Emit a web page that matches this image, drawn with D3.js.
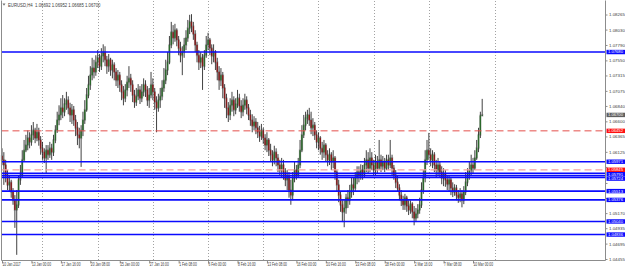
<!DOCTYPE html>
<html>
<head>
<meta charset="utf-8">
<script src="https://cdn.jsdelivr.net/npm/d3@7"></script>
<style>
html, body { margin: 0; padding: 0; background: #fff; }
svg { display: block; font-family: "Liberation Sans", Arial, sans-serif; }
</style>
</head>
<body>
<svg id="chart" width="625" height="270"></svg>
<script>
// EURUSD H4 bars, 10 Jan 2017 08:00 .. 10 Mar 2017 20:00 (bar index = position)
const firstOpen = 1.0606;
const closes = [
  1.0600,1.0592,1.0576,1.0561,1.0565,1.0550,1.0537,1.0522,1.0530,1.0569,
  1.0576,1.0600,1.0615,1.0623,1.0634,1.0628,1.0639,1.0646,1.0634,1.0643,
  1.0631,1.0618,1.0612,1.0603,1.0615,1.0608,1.0618,1.0612,1.0631,1.0646,
  1.0662,1.0670,1.0681,1.0675,1.0687,1.0693,1.0681,1.0670,1.0678,1.0662,
  1.0650,1.0639,1.0634,1.0646,1.0662,1.0678,1.0701,1.0717,1.0732,1.0743,
  1.0737,1.0752,1.0759,1.0746,1.0762,1.0768,1.0756,1.0746,1.0756,1.0740,
  1.0748,1.0737,1.0724,1.0732,1.0717,1.0706,1.0696,1.0709,1.0721,1.0727,
  1.0717,1.0701,1.0690,1.0699,1.0709,1.0696,1.0706,1.0717,1.0709,1.0693,
  1.0701,1.0717,1.0706,1.0690,1.0681,1.0693,1.0699,1.0712,1.0724,1.0740,
  1.0752,1.0779,1.0799,1.0790,1.0802,1.0787,1.0774,1.0763,1.0768,1.0779,
  1.0790,1.0805,1.0815,1.0808,1.0796,1.0779,1.0763,1.0752,1.0759,1.0746,
  1.0763,1.0779,1.0787,1.0774,1.0762,1.0768,1.0752,1.0737,1.0724,1.0732,
  1.0712,1.0696,1.0681,1.0670,1.0685,1.0693,1.0678,1.0687,1.0696,1.0684,
  1.0675,1.0685,1.0693,1.0681,1.0670,1.0662,1.0653,1.0659,1.0650,1.0643,
  1.0637,1.0646,1.0634,1.0623,1.0631,1.0615,1.0608,1.0600,1.0612,1.0603,
  1.0592,1.0584,1.0592,1.0581,1.0569,1.0575,1.0553,1.0545,1.0572,1.0584,
  1.0576,1.0592,1.0615,1.0639,1.0654,1.0665,1.0670,1.0662,1.0650,1.0654,
  1.0639,1.0628,1.0634,1.0618,1.0612,1.0623,1.0608,1.0600,1.0608,1.0597,
  1.0603,1.0581,1.0561,1.0545,1.0530,1.0519,1.0525,1.0541,1.0537,1.0550,
  1.0561,1.0556,1.0572,1.0581,1.0575,1.0584,1.0578,1.0592,1.0600,1.0587,
  1.0603,1.0592,1.0584,1.0597,1.0587,1.0600,1.0590,1.0597,1.0587,1.0600,
  1.0592,1.0603,1.0587,1.0576,1.0565,1.0556,1.0545,1.0537,1.0530,1.0541,
  1.0528,1.0522,1.0531,1.0519,1.0509,1.0516,1.0522,1.0530,1.0553,1.0572,
  1.0600,1.0615,1.0608,1.0600,1.0608,1.0592,1.0584,1.0592,1.0581,1.0572,
  1.0578,1.0569,1.0562,1.0569,1.0556,1.0550,1.0556,1.0545,1.0541,1.0547,
  1.0537,1.0550,1.0565,1.0576,1.0584,1.0592,1.0587,1.0603,1.0618,1.0639,
  1.0669,1.0670
];
const highs = [
  1.0618,1.0612,1.0600,1.0584,1.0575,1.0569,1.0556,1.0545,1.0553,1.0576,
  1.0592,1.0615,1.0631,1.0639,1.0646,1.0643,1.0654,1.0659,1.0650,1.0656,
  1.0650,1.0637,1.0628,1.0618,1.0623,1.0623,1.0628,1.0625,1.0639,1.0654,
  1.0675,1.0685,1.0696,1.0701,1.0696,1.0706,1.0699,1.0689,1.0687,1.0684,
  1.0670,1.0659,1.0650,1.0654,1.0675,1.0693,1.0712,1.0731,1.0746,1.0759,
  1.0756,1.0763,1.0771,1.0765,1.0774,1.0780,1.0777,1.0762,1.0765,1.0759,
  1.0756,1.0752,1.0743,1.0740,1.0737,1.0724,1.0715,1.0718,1.0731,1.0746,
  1.0734,1.0724,1.0709,1.0712,1.0718,1.0715,1.0718,1.0727,1.0724,1.0715,
  1.0712,1.0737,1.0727,1.0712,1.0699,1.0703,1.0712,1.0724,1.0743,1.0756,
  1.0768,1.0793,1.0815,1.0810,1.0812,1.0805,1.0793,1.0784,1.0777,1.0790,
  1.0802,1.0818,1.0826,1.0827,1.0815,1.0802,1.0784,1.0771,1.0768,1.0765,
  1.0771,1.0793,1.0798,1.0790,1.0780,1.0780,1.0771,1.0759,1.0746,1.0743,
  1.0737,1.0718,1.0703,1.0690,1.0696,1.0706,1.0699,1.0696,1.0709,1.0703,
  1.0693,1.0696,1.0703,1.0699,1.0687,1.0678,1.0671,1.0668,1.0665,1.0659,
  1.0653,1.0656,1.0650,1.0640,1.0643,1.0634,1.0625,1.0615,1.0622,1.0618,
  1.0609,1.0600,1.0603,1.0600,1.0587,1.0584,1.0581,1.0569,1.0581,1.0597,
  1.0592,1.0603,1.0631,1.0654,1.0670,1.0675,1.0678,1.0681,1.0675,1.0665,
  1.0659,1.0646,1.0643,1.0637,1.0628,1.0631,1.0626,1.0615,1.0618,1.0612,
  1.0615,1.0606,1.0584,1.0569,1.0550,1.0537,1.0537,1.0547,1.0553,1.0561,
  1.0572,1.0572,1.0581,1.0590,1.0590,1.0593,1.0592,1.0603,1.0615,1.0612,
  1.0618,1.0612,1.0600,1.0608,1.0606,1.0631,1.0608,1.0606,1.0603,1.0608,
  1.0608,1.0631,1.0608,1.0592,1.0584,1.0575,1.0562,1.0553,1.0544,1.0547,
  1.0544,1.0537,1.0537,1.0534,1.0528,1.0525,1.0531,1.0541,1.0565,1.0584,
  1.0615,1.0631,1.0642,1.0618,1.0615,1.0612,1.0600,1.0603,1.0597,1.0590,
  1.0587,1.0584,1.0576,1.0575,1.0572,1.0565,1.0562,1.0561,1.0553,1.0556,
  1.0553,1.0559,1.0581,1.0587,1.0597,1.0608,1.0603,1.0615,1.0631,1.0650,
  1.0675,1.0695
];
const lows = [
  1.0592,1.0561,1.0565,1.0553,1.0550,1.0541,1.0530,1.0494,1.0452,1.0525,
  1.0561,1.0572,1.0597,1.0612,1.0615,1.0618,1.0622,1.0631,1.0626,1.0629,
  1.0622,1.0608,1.0600,1.0595,1.0579,1.0600,1.0603,1.0600,1.0606,1.0626,
  1.0642,1.0654,1.0662,1.0665,1.0668,1.0678,1.0671,1.0659,1.0656,1.0653,
  1.0637,1.0623,1.0618,1.0589,1.0637,1.0656,1.0675,1.0696,1.0709,1.0724,
  1.0727,1.0731,1.0743,1.0737,1.0740,1.0752,1.0746,1.0734,1.0737,1.0731,
  1.0727,1.0724,1.0715,1.0712,1.0706,1.0693,1.0685,1.0690,1.0699,1.0712,
  1.0706,1.0690,1.0681,1.0684,1.0693,1.0687,1.0690,1.0699,1.0698,1.0684,
  1.0681,1.0696,1.0693,1.0678,1.0643,1.0675,1.0681,1.0693,1.0706,1.0718,
  1.0732,1.0749,1.0774,1.0780,1.0784,1.0777,1.0763,1.0752,1.0732,1.0759,
  1.0771,1.0784,1.0796,1.0799,1.0787,1.0768,1.0752,1.0740,1.0743,1.0709,
  1.0740,1.0759,1.0771,1.0763,1.0749,1.0752,1.0740,1.0724,1.0709,1.0715,
  1.0696,1.0681,1.0665,1.0659,1.0662,1.0675,1.0668,1.0671,1.0681,1.0675,
  1.0665,1.0668,1.0678,1.0671,1.0662,1.0653,1.0643,1.0646,1.0640,1.0634,
  1.0628,1.0631,1.0625,1.0615,1.0612,1.0606,1.0597,1.0590,1.0593,1.0590,
  1.0581,1.0575,1.0572,1.0569,1.0559,1.0553,1.0541,1.0530,1.0537,1.0565,
  1.0569,1.0572,1.0587,1.0612,1.0634,1.0646,1.0656,1.0653,1.0640,1.0637,
  1.0631,1.0618,1.0615,1.0608,1.0600,1.0603,1.0597,1.0590,1.0592,1.0584,
  1.0587,1.0569,1.0550,1.0534,1.0519,1.0503,1.0495,1.0516,1.0525,1.0530,
  1.0541,1.0545,1.0550,1.0562,1.0565,1.0569,1.0569,1.0572,1.0581,1.0578,
  1.0581,1.0584,1.0575,1.0576,1.0578,1.0584,1.0581,1.0584,1.0581,1.0584,
  1.0584,1.0587,1.0576,1.0569,1.0556,1.0550,1.0537,1.0528,1.0522,1.0522,
  1.0519,1.0514,1.0516,1.0509,1.0498,1.0503,1.0509,1.0516,1.0525,1.0547,
  1.0565,1.0592,1.0600,1.0590,1.0587,1.0581,1.0573,1.0576,1.0572,1.0562,
  1.0559,1.0558,1.0553,1.0550,1.0545,1.0542,1.0544,1.0537,1.0533,1.0534,
  1.0526,1.0531,1.0545,1.0559,1.0569,1.0575,1.0578,1.0584,1.0600,1.0612,
  1.0634,1.0668
];

// time axis: labels every 16 bars, grid on week starts (Monday 00:00)
const xTickBars = [0, 16, 32, 48, 64, 80, 96, 112, 128, 144, 160, 176, 192, 208, 224, 240, 256];
const xTickText = ["10 Jan 2017", "13 Jan 00:00", "17 Jan 16:00", "20 Jan 08:00", "25 Jan 00:00",
  "27 Jan 16:00", "1 Feb 08:00", "6 Feb 00:00", "8 Feb 16:00", "13 Feb 08:00", "16 Feb 00:00",
  "20 Feb 16:00", "23 Feb 08:00", "28 Feb 00:00", "2 Mar 16:00", "7 Mar 08:00", "10 Mar 00:00"];
const gridBars = [22, 52, 82, 112, 142, 172, 202, 232, 268];

// price axis
const yTicks = [1.08265, 1.08030, 1.07790, 1.07550, 1.07315, 1.07075, 1.06840, 1.06600, 1.06365,
  1.06125, 1.05890, 1.05640, 1.05405, 1.05170, 1.04935, 1.04695, 1.04455];

// drawn horizontal levels (the label of 1.05754 sits under its neighbours in the reference)
const blueLevels = [1.07680, 1.05971, 1.05791, 1.05754, 1.05724, 1.05513, 1.05376, 1.05040, 1.04836];
const blueUnlabelled = [1.05754];
const redLevels = [1.06452];
const pinkLevels = [1.05845];

const title = "EURUSD,H4  1.06692 1.06952 1.06685 1.06700";

const W = 625, H = 270;
const plotRight = 605.5, plotBottom = 260.5;

const svg = d3.select("#chart");
svg.append("rect").attr("width", W).attr("height", H).attr("fill", "#fff");

const x = d3.scaleLinear().domain([0, 261]).range([2, 482.2]);
const y = d3.scaleLinear().domain([1.08265, 1.04455]).range([14.5, 259]);

const opens = closes.map((c, i) => i === 0 ? firstOpen : closes[i - 1]);
const bars = closes.map((c, i) => ({ i: i, o: opens[i], h: highs[i], l: lows[i], c: c }));

// week grid
svg.append("g").selectAll("line").data(gridBars).enter().append("line")
  .attr("x1", d => Math.round(x(d)) + 0.5).attr("x2", d => Math.round(x(d)) + 0.5)
  .attr("y1", 1).attr("y2", plotBottom)
  .attr("stroke", "#8a8a8a").attr("stroke-width", 0.8).attr("stroke-dasharray", "1,2");

// candles
const candles = svg.append("g");
const bodyW = 1.4;
candles.selectAll("rect.halo").data(bars).enter().append("rect")
  .attr("class", "halo")
  .attr("x", d => x(d.i) - 1.3).attr("width", 2.6)
  .attr("y", d => y(Math.max(d.o, d.c)) - 1)
  .attr("height", d => Math.abs(y(d.o) - y(d.c)) + 2)
  .attr("fill", "#b0b0b0").attr("opacity", 0.55);
candles.selectAll("line").data(bars).enter().append("line")
  .attr("x1", d => x(d.i)).attr("x2", d => x(d.i))
  .attr("y1", d => y(Math.max(d.h, d.o, d.c))).attr("y2", d => y(Math.min(d.l, d.o, d.c)))
  .attr("stroke", "#111").attr("stroke-width", 0.8);
candles.selectAll("rect.body").data(bars).enter().append("rect")
  .attr("class", "body")
  .attr("x", d => x(d.i) - bodyW / 2).attr("width", bodyW)
  .attr("y", d => y(Math.max(d.o, d.c)))
  .attr("height", d => Math.max(0.7, Math.abs(y(d.o) - y(d.c))))
  .attr("fill", d => d.c >= d.o ? "#2b682b" : "#861a1a");

// horizontal levels
const levels = svg.append("g");
levels.selectAll("line.blue").data(blueLevels).enter().append("line")
  .attr("x1", 1.5).attr("x2", plotRight).attr("y1", d => y(d)).attr("y2", d => y(d))
  .attr("stroke", "#0a0aff").attr("stroke-width", 1.6);
levels.selectAll("line.red").data(redLevels).enter().append("line")
  .attr("x1", 1.5).attr("x2", plotRight).attr("y1", d => y(d)).attr("y2", d => y(d))
  .attr("stroke", "#e4504c").attr("stroke-width", 1).attr("stroke-dasharray", "7,4");
levels.selectAll("line.pink").data(pinkLevels).enter().append("line")
  .attr("x1", 1.5).attr("x2", plotRight).attr("y1", d => y(d)).attr("y2", d => y(d))
  .attr("stroke", "#f5a3a3").attr("stroke-width", 1.3).attr("stroke-dasharray", "7,4");

// frame
svg.append("path")
  .attr("d", `M1.5,0.5V${plotBottom}H${plotRight}V0.5`)
  .attr("fill", "none").attr("stroke", "#8c8c8c").attr("stroke-width", 1);

// price labels on the scale: stack them so close ones do not cover each other
const labelGap = 4.4;
const priceLabels = [];
blueLevels.filter(v => !blueUnlabelled.includes(v)).forEach(v => priceLabels.push({ v: v, color: "#0a0aff" }));
redLevels.forEach(v => priceLabels.push({ v: v, color: "#ff1010" }));
pinkLevels.forEach(v => priceLabels.push({ v: v, color: "#ff1010" }));
priceLabels.push({ v: closes[closes.length - 1], color: "#606060" });
priceLabels.sort((a, b) => b.v - a.v);
let lastY = -100;
priceLabels.forEach(p => {
  p.y = Math.max(y(p.v), lastY + labelGap);
  lastY = p.y;
});

// price axis (ticks hidden where a price label sits on them)
const yAxis = svg.append("g").attr("transform", `translate(${plotRight},0)`)
  .call(d3.axisRight(y).tickValues(yTicks).tickSize(2).tickSizeOuter(0).tickPadding(1.5)
    .tickFormat(d3.format(".5f")));
yAxis.select(".domain").remove();
yAxis.selectAll(".tick line").attr("stroke", "#8c8c8c");
yAxis.selectAll(".tick text").attr("font-size", 4.4).attr("fill", "#3c3c3c")
  .attr("font-family", "'Liberation Sans', Arial, sans-serif");
yAxis.selectAll(".tick")
  .filter(d => priceLabels.some(p => Math.abs(p.y - y(d)) < 4.6))
  .select("text").remove();

// time axis
const xAxis = svg.append("g").attr("transform", `translate(0,${plotBottom})`)
  .call(d3.axisBottom(x).tickValues(xTickBars).tickSize(3).tickSizeOuter(0)
    .tickFormat((d, i) => xTickText[i]));
xAxis.select(".domain").remove();
xAxis.selectAll(".tick line").attr("stroke", "#8c8c8c");
xAxis.selectAll(".tick text")
  .attr("text-anchor", "start").attr("x", 0).attr("y", 2.3)
  .attr("transform", "scale(0.72,1)")
  .attr("font-size", 4.6).attr("fill", "#3c3c3c")
  .attr("font-family", "'Liberation Sans', Arial, sans-serif");

const labelG = svg.append("g").selectAll("g").data(priceLabels).enter().append("g")
  .attr("transform", d => `translate(606.5,${d.y})`);
labelG.append("rect").attr("x", 0).attr("y", -2.2).attr("width", 18.5).attr("height", 4.4)
  .attr("fill", d => d.color);
labelG.append("text").attr("x", 1.4).attr("y", 0).attr("dy", "0.34em")
  .attr("font-size", 4.2).attr("fill", "#fff").text(d => d.v.toFixed(5));

// title
svg.append("path").attr("d", "M2.5,3.5 L5.5,3.5 L4,5.8 Z").attr("fill", "#707070");
svg.append("text").attr("x", 8).attr("y", 6.6).attr("font-size", 4.6).attr("fill", "#3c3c3c")
  .attr("xml:space", "preserve").style("white-space", "pre")
  .attr("transform", "translate(8,0) scale(0.93,1) translate(-8,0)")
  .text(title);
</script>
</body>
</html>
